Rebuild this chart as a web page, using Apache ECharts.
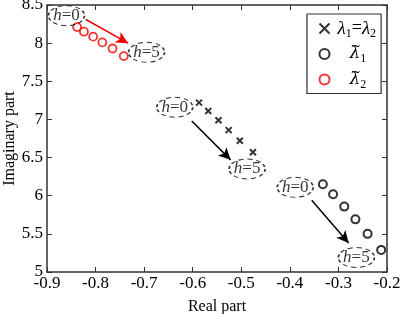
<!DOCTYPE html>
<html><head><meta charset="utf-8">
<script src="https://cdn.jsdelivr.net/npm/echarts@6/dist/echarts.min.js"></script>
<style>html,body{margin:0;padding:0;background:#fff}#c{width:401px;height:314px}</style>
</head><body><div id="c"></div>
<script>
// Data
const red = [[-0.838,8.21],[-0.824,8.15],[-0.805,8.085],[-0.786,8.01],[-0.765,7.93],[-0.742,7.83]];
const cross = [[-0.587,7.22],[-0.568,7.11],[-0.547,6.99],[-0.526,6.86],[-0.503,6.72],[-0.476,6.57]];
const black = [[-0.332,6.15],[-0.311,6.02],[-0.288,5.857],[-0.265,5.69],[-0.240,5.50],[-0.212,5.29]];
// annotations: [x, y, label]
const annots = [[-0.860,8.36,'0'],[-0.695,7.88,'5'],[-0.637,7.16,'0'],[-0.488,6.35,'5'],[-0.389,6.11,'0'],[-0.263,5.19,'5']];
const arrows = [
  [[-0.820,8.31],[-0.733,8.0],'#ee0000'],
  [[-0.602,6.98],[-0.522,6.47],'#000'],
  [[-0.355,5.94],[-0.279,5.38],'#000']
];
const xTicks = [-0.9,-0.2,0.1];
const yTicks = [5,8.5,0.5];
const legendNames = ['λ1=λ2','λ~1','λ~2'];
const legendRich = {
  'λ1=λ2':'{l|λ}{s|1}{e|=}{l|λ}{s|2}',
  'λ~1':'{g|λ̃}{s|1}',
  'λ~2':'{g|λ̃}{s|2}'
};

const F = '"Liberation Serif","Times New Roman",serif';
const chart = echarts.init(document.getElementById('c'), null, {renderer:'canvas'});
const axisCommon = {
  axisLine:{show:true,lineStyle:{color:'#333',width:1.5}},
  axisTick:{show:true,inside:true,length:5,lineStyle:{color:'#333'}},
  splitLine:{show:false}
};
chart.setOption({
  animation:false,
  grid:{left:47,top:5,right:14,bottom:42,containLabel:false,outerBoundsMode:'none'},
  xAxis:[
    Object.assign({type:'value',min:xTicks[0],max:xTicks[1],interval:xTicks[2],position:'bottom',
      name:'Real part',nameLocation:'middle',nameGap:27,nameMoveOverlap:false,
      nameTextStyle:{fontFamily:F,fontSize:16,color:'#000'},
      axisLabel:{fontFamily:F,fontSize:17,color:'#000',margin:3}},axisCommon),
    Object.assign({type:'value',min:xTicks[0],max:xTicks[1],interval:xTicks[2],position:'top',
      axisLabel:{show:false}},axisCommon)
  ],
  yAxis:[
    Object.assign({type:'value',min:yTicks[0],max:yTicks[1],interval:yTicks[2],position:'left',
      name:'Imaginary part',nameLocation:'middle',nameGap:29,nameMoveOverlap:false,
      nameTextStyle:{fontFamily:F,fontSize:16,color:'#000'},
      axisLabel:{fontFamily:F,fontSize:17,color:'#000',margin:4}},axisCommon),
    Object.assign({type:'value',min:yTicks[0],max:yTicks[1],interval:yTicks[2],position:'right',
      axisLabel:{show:false}},axisCommon)
  ],
  legend:{
    orient:'vertical',left:307,top:14,
    padding:[5,5,3,10],itemGap:6,itemWidth:12,itemHeight:10,
    borderColor:'#333',borderWidth:1.2,backgroundColor:'#fff',
    formatter:n=>legendRich[n],
    textStyle:{fontFamily:F,fontSize:18,color:'#000',padding:[0,0,0,2],
      rich:{
        l:{fontFamily:F,fontSize:19,fontStyle:'italic',color:'#000'},
        g:{fontFamily:'"DejaVu Serif",serif',fontSize:17,fontStyle:'italic',color:'#000',padding:[0,0,0,12]},
        e:{fontFamily:F,fontSize:18,color:'#000'},
        s:{fontFamily:F,fontSize:12,color:'#000',padding:[10,0,0,0]}
      }},
    data:legendNames
  },
  series:[
    {name:legendNames[0],type:'scatter',data:cross,symbol:'path://M0,0L10,10M10,0L0,10',symbolSize:6,
      itemStyle:{color:'none',borderColor:'#000',borderWidth:2}},
    {name:legendNames[1],type:'scatter',data:black,symbol:'circle',symbolSize:8,
      itemStyle:{color:'#fff',borderColor:'#000',borderWidth:2}},
    {name:legendNames[2],type:'scatter',data:red,symbol:'circle',symbolSize:8,
      itemStyle:{color:'#fff',borderColor:'#ee0000',borderWidth:1.8}},
    {name:'annot',type:'scatter',silent:true,
      data:annots.map(a=>({value:[a[0],a[1]],label:{formatter:'{i|h}=' + a[2]}})),
      symbol:'circle',symbolSize:[36,20],
      itemStyle:{color:'rgba(255,255,255,0)',borderColor:'#000',borderWidth:1.3,borderType:[4,3]},
      label:{show:true,position:'inside',fontFamily:F,fontSize:17,color:'#000',
        rich:{i:{fontFamily:F,fontSize:17,fontStyle:'italic',color:'#000'}}},
      markLine:{silent:true,symbol:['none','arrow'],symbolSize:[9,12],label:{show:false},
        data:arrows.map(a=>[{coord:a[0],lineStyle:{color:a[2],width:1.5,type:'solid'},itemStyle:{color:a[2]}},{coord:a[1]}])}
    }
  ]
});
</script></body></html>
